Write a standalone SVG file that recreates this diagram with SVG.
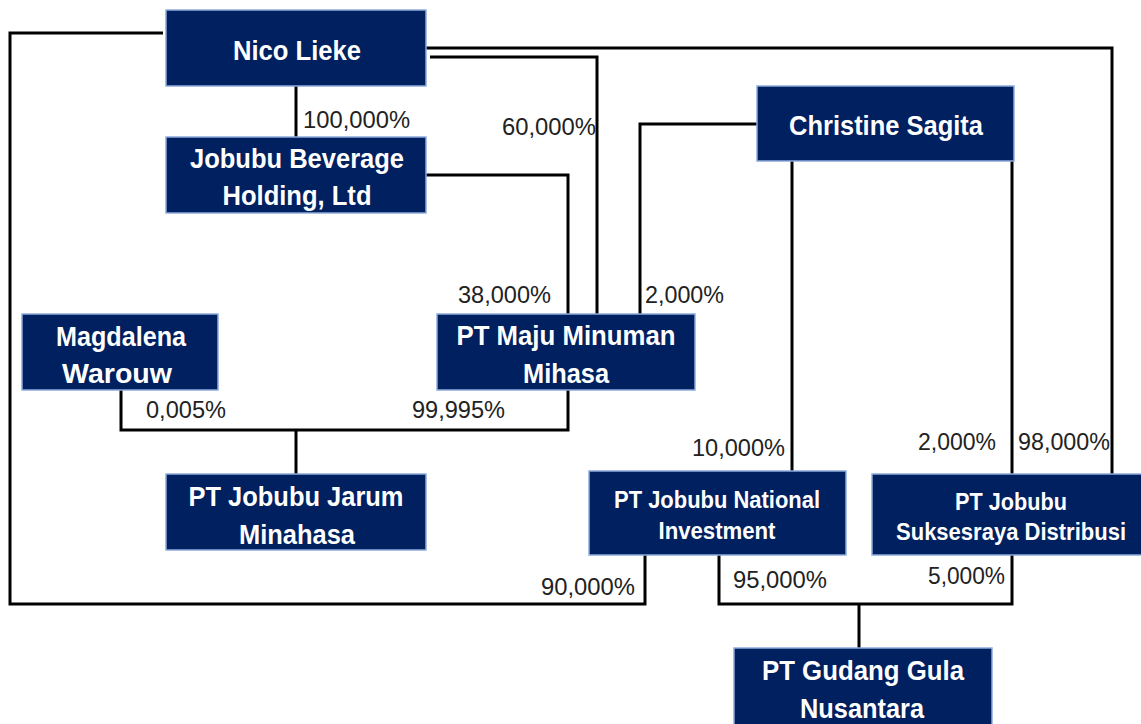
<svg xmlns="http://www.w3.org/2000/svg" width="1141" height="724" viewBox="0 0 1141 724">
<style>
.box{fill:#002060;stroke:#8FAADC;stroke-width:1.5}
.t{font-family:"Liberation Sans",Arial,sans-serif;font-weight:bold;fill:#fff;text-anchor:middle;font-size:28px}
.ts{font-size:23px}
.l{font-family:"Liberation Sans",Arial,sans-serif;font-size:24px;fill:#222}
.c{fill:none;stroke:#000;stroke-width:3}
</style>
<rect width="1141" height="724" fill="#fff"/>
<g id="connectors">
<polyline class="c" points="163,33 10,33 10,604 645,604 645,555"/>
<polyline class="c" points="426,48 1112,48 1112,474"/>
<polyline class="c" points="430,57 597,57 597,314"/>
<polyline class="c" points="296,86 296,137"/>
<polyline class="c" points="426,175 568,175 568,314"/>
<polyline class="c" points="757,124 640,124 640,314"/>
<polyline class="c" points="792,161 792,471"/>
<polyline class="c" points="1012,161 1012,474"/>
<polyline class="c" points="121,390 121,430 568,430 568,390"/>
<polyline class="c" points="296,430 296,474"/>
<polyline class="c" points="719,555 719,604 1012,604 1012,555"/>
<polyline class="c" points="859,604 859,648"/>
</g>
<g id="labels">
<text class="l" x="303" y="128" textLength="107" lengthAdjust="spacingAndGlyphs">100,000%</text>
<text class="l" x="502" y="135" textLength="94" lengthAdjust="spacingAndGlyphs">60,000%</text>
<text class="l" x="458" y="303" textLength="93" lengthAdjust="spacingAndGlyphs">38,000%</text>
<text class="l" x="645" y="303" textLength="79" lengthAdjust="spacingAndGlyphs">2,000%</text>
<text class="l" x="146" y="418" textLength="80" lengthAdjust="spacingAndGlyphs">0,005%</text>
<text class="l" x="412" y="418" textLength="93" lengthAdjust="spacingAndGlyphs">99,995%</text>
<text class="l" x="692" y="456" textLength="93" lengthAdjust="spacingAndGlyphs">10,000%</text>
<text class="l" x="918" y="450" textLength="78" lengthAdjust="spacingAndGlyphs">2,000%</text>
<text class="l" x="1018" y="450" textLength="92" lengthAdjust="spacingAndGlyphs">98,000%</text>
<text class="l" x="541" y="595" textLength="94" lengthAdjust="spacingAndGlyphs">90,000%</text>
<text class="l" x="733" y="588" textLength="94" lengthAdjust="spacingAndGlyphs">95,000%</text>
<text class="l" x="928" y="584" textLength="77" lengthAdjust="spacingAndGlyphs">5,000%</text>
</g>
<g id="nico"><rect class="box" x="166" y="10" width="260" height="76"/><text class="t" x="297" y="60" textLength="128" lengthAdjust="spacingAndGlyphs">Nico Lieke</text></g>
<g id="jobubu-beverage"><rect class="box" x="166" y="137" width="260" height="76"/><text class="t" x="297" y="168" textLength="214" lengthAdjust="spacingAndGlyphs">Jobubu Beverage</text><text class="t" x="297" y="205" textLength="149" lengthAdjust="spacingAndGlyphs">Holding, Ltd</text></g>
<g id="christine"><rect class="box" x="757" y="86" width="257" height="75"/><text class="t" x="886" y="135" textLength="194" lengthAdjust="spacingAndGlyphs">Christine Sagita</text></g>
<g id="magdalena"><rect class="box" x="22" y="314" width="196" height="76"/><text class="t" x="121" y="346" textLength="130" lengthAdjust="spacingAndGlyphs">Magdalena</text><text class="t" x="117" y="383" textLength="110" lengthAdjust="spacingAndGlyphs">Warouw</text></g>
<g id="maju"><rect class="box" x="437" y="314" width="258" height="76"/><text class="t" x="566" y="345" textLength="219" lengthAdjust="spacingAndGlyphs">PT Maju Minuman</text><text class="t" x="566" y="383" textLength="86" lengthAdjust="spacingAndGlyphs">Mihasa</text></g>
<g id="jarum"><rect class="box" x="166" y="474" width="260" height="76"/><text class="t" x="296" y="506" textLength="215" lengthAdjust="spacingAndGlyphs">PT Jobubu Jarum</text><text class="t" x="297" y="544" textLength="116" lengthAdjust="spacingAndGlyphs">Minahasa</text></g>
<g id="national"><rect class="box" x="589" y="471" width="257" height="84"/><text class="t ts" x="717" y="508" textLength="206" lengthAdjust="spacingAndGlyphs">PT Jobubu National</text><text class="t ts" x="717" y="539" textLength="117" lengthAdjust="spacingAndGlyphs">Investment</text></g>
<g id="suksesraya"><rect class="box" x="872" y="474" width="280" height="81"/><text class="t ts" x="1011" y="510" textLength="112" lengthAdjust="spacingAndGlyphs">PT Jobubu</text><text class="t ts" x="1011" y="540" textLength="230" lengthAdjust="spacingAndGlyphs">Suksesraya Distribusi</text></g>
<g id="gudang"><rect class="box" x="734" y="648" width="258" height="90"/><text class="t" x="863" y="680" textLength="202" lengthAdjust="spacingAndGlyphs">PT Gudang Gula</text><text class="t" x="862" y="718" textLength="124" lengthAdjust="spacingAndGlyphs">Nusantara</text></g>
</svg>
